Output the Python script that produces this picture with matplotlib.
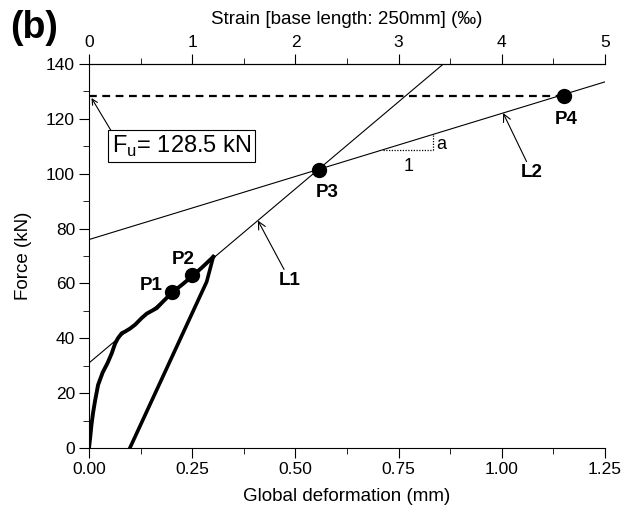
import matplotlib
matplotlib.use("Agg")
import matplotlib.pyplot as plt
import numpy as np

plt.rcParams['font.family'] = ['Liberation Sans', 'DejaVu Sans']

# measured load-deformation curve (loading branch then unloading)
load_def = [0.0, 0.003, 0.006, 0.010, 0.015, 0.022, 0.033, 0.045, 0.055, 0.063, 0.070,
            0.079, 0.088, 0.099, 0.112, 0.127, 0.140, 0.152, 0.164, 0.180, 0.200,
            0.225, 0.253, 0.275, 0.301]
load_force = [0.0, 4.0, 8.5, 13.0, 17.5, 23.0, 27.5, 31.0, 34.5, 38.0, 40.0,
              41.8, 42.5, 43.5, 45.0, 47.3, 49.0, 50.0, 51.0, 53.5, 56.5,
              59.5, 63.0, 66.0, 69.7]
unload_def = [0.301, 0.285, 0.099]
unload_force = [69.7, 60.6, 0.0]

# fitted lines (intercept, slope)
l1_int, l1_slope = 31.0, 127.0
l2_int, l2_slope = 76.0, 46.0

pt_names = ["P1", "P2", "P3", "P4"]
pt_def = [0.200, 0.249, 0.556, 1.150]
pt_force = [56.7, 63.0, 101.5, 128.5]

f_u = 128.5

fig = plt.figure(figsize=(6.29, 5.12), dpi=100)
ax = fig.add_axes([0.1415, 0.125, 0.8205, 0.75])

xs = np.array([0.0, 1.25])
ax.plot(xs, l1_int + l1_slope * xs, color='black', lw=0.8)
ax.plot(xs, l2_int + l2_slope * xs, color='black', lw=0.8)
ax.plot(load_def, load_force, color='black', lw=2.8, solid_joinstyle='round')
ax.plot(unload_def, unload_force, color='black', lw=2.6, solid_joinstyle='round')
ax.plot([0.0, pt_def[3]], [f_u, f_u], color='black', lw=1.6, ls=(0, (3.5, 2.5)))
ax.plot(pt_def, pt_force, 'o', color='black', ms=10, ls='none', zorder=5)

label_pos = [(0.150, 59.4), (0.228, 68.9), (0.577, 93.3), (1.156, 119.6)]
for name, (lx, ly) in zip(pt_names, label_pos):
    ax.text(lx, ly, name, fontsize=13.5, fontweight='bold', ha='center', va='center')

arrow = dict(arrowstyle='->', color='black', lw=0.8, shrinkA=0, shrinkB=0)
ax.annotate("L1", xy=(0.409, l1_int + l1_slope * 0.409), xytext=(0.487, 61.0),
            fontsize=13.5, fontweight='bold', ha='center', va='center', arrowprops=arrow)
ax.annotate("L2", xy=(1.003, l2_int + l2_slope * 1.003), xytext=(1.073, 100.3),
            fontsize=13.5, fontweight='bold', ha='center', va='center', arrowprops=arrow)
ax.annotate("", xy=(0.006, 127.6), xytext=(0.055, 115.3), arrowprops=arrow)
ax.text(0.055, 110.0, r"F$_{\mathregular{u}}$= 128.5 kN", fontsize=17,
        ha='left', va='center',
        bbox=dict(boxstyle='square,pad=0.15', fc='white', ec='black', lw=0.8))

# slope triangle on L2
tx0, tx1 = 0.713, 0.834
ax.plot([tx0, tx1], [l2_int + l2_slope * tx0] * 2, color='black', lw=0.9, ls=(0, (1, 1.2)))
ax.plot([tx1, tx1], [l2_int + l2_slope * tx0, l2_int + l2_slope * tx1], color='black',
        lw=0.9, ls=(0, (1, 1.2)))
ax.text(tx1 + 0.008, 110.8, "a", fontsize=13, ha='left', va='center')
ax.text(0.773, 102.5, "1", fontsize=13, ha='center', va='center')

ax.set_xlim(0, 1.25)
ax.set_ylim(0, 140)
ax.set_xticks(np.arange(0, 1.26, 0.25))
ax.set_xticks(np.arange(0, 1.26, 0.125), minor=True)
ax.set_yticks(np.arange(0, 141, 20))
ax.set_yticks(np.arange(0, 141, 10), minor=True)
ax.xaxis.set_major_formatter(matplotlib.ticker.FormatStrFormatter('%.2f'))
ax.tick_params(which='both', direction='out', labelsize=12.5, pad=3)
ax.tick_params(which='major', length=7)
ax.tick_params(which='minor', length=4)
ax.spines['right'].set_visible(False)
ax.set_xlabel("Global deformation (mm)", fontsize=13.5, labelpad=8)
ax.set_ylabel("Force (kN)", fontsize=13.5, labelpad=10)

top = ax.secondary_xaxis('top', functions=(lambda d: d * 4.0, lambda s: s / 4.0))
top.set_xticks(np.arange(0, 6, 1))
top.set_xticks(np.arange(0, 5.01, 0.5), minor=True)
top.tick_params(which='both', direction='out', labelsize=12.5, pad=3)
top.tick_params(which='major', length=7)
top.tick_params(which='minor', length=4)
top.set_xlabel("Strain [base length: 250mm] (\u2030)", fontsize=13.5, labelpad=8)

fig.text(0.016, 0.945, "(b)", fontsize=27, fontweight='bold', ha='left', va='center')

fig.savefig("out.png", dpi=100)
